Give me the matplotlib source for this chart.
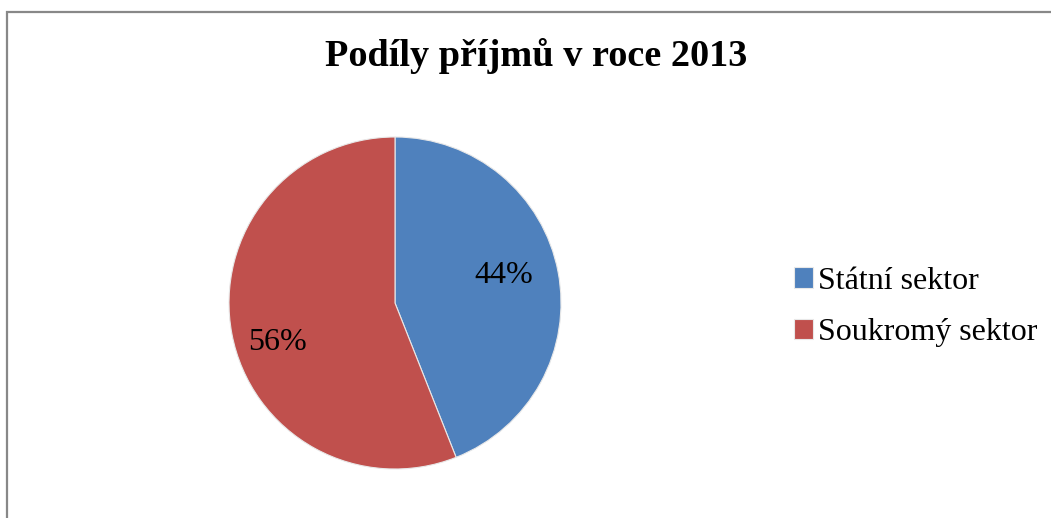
import numpy as np
import matplotlib.pyplot as plt
from matplotlib.patches import Rectangle

labels = ['Státní sektor', 'Soukromý sektor']
values = [44, 56]
colors = ['#4F81BD', '#C0504D']

plt.rcParams['font.family'] = ['Liberation Serif', 'DejaVu Serif']

fig = plt.figure(figsize=(10.51, 5.18), dpi=100)
fig.patches.append(Rectangle((7/1051, -0.1), 1.2, 1 - 12/518 + 0.1, transform=fig.transFigure,
                             fill=False, edgecolor='#888888', linewidth=1.6))

ax = fig.add_axes([229/1051, 49/518, 332/1051, 332/518])
wedges, texts, autotexts = ax.pie(values, colors=colors, startangle=90, counterclock=False,
                                  autopct='%1.0f%%', pctdistance=0.7,
                                  wedgeprops=dict(edgecolor='#e8e8e8', linewidth=0.8),
                                  textprops=dict(fontsize=23, color='black'))
# Excel-like label placement: nudge labels a little off the slice middle
for w, t, r in zip(wedges, autotexts, [0.68, 0.74]):
    ang = np.deg2rad((w.theta1 + w.theta2) / 2 + 5.5)
    t.set_position((r * np.cos(ang), r * np.sin(ang) - 0.028))
ax.set_xlim(-1, 1)
ax.set_ylim(-1, 1)
ax.set_aspect('equal')

fig.text(536/1051, 1 - 56/518, 'Podíly příjmů v roce 2013', ha='center', va='center',
         fontsize=27.5, fontweight='bold')

fig.legend(wedges, labels, loc='center left', bbox_to_anchor=(765/1051, 1 - 307/518),
           frameon=False, fontsize=23, handlelength=0.6, handleheight=0.6,
           handletextpad=0.15, labelspacing=0.7)

fig.savefig('out.png', dpi=100)
